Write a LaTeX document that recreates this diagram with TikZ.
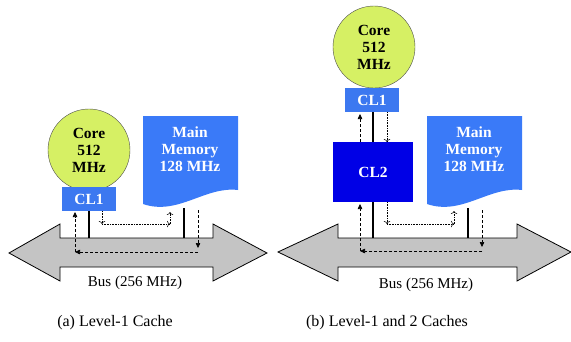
\documentclass[tikz,border=0pt]{standalone}
\usepackage{fontspec}
\setmainfont{Liberation Serif}
\usetikzlibrary{arrows.meta,positioning}
\definecolor{coregreen}{HTML}{D6F064}
\definecolor{cacheblue}{HTML}{3C78F0}
\definecolor{memblue}{HTML}{3A7AF8}
\definecolor{cltwoblue}{HTML}{0000E6}
\definecolor{busgray}{HTML}{C4C4C4}

\begin{document}
\begin{tikzpicture}[x=1pt,y=-1pt,
  core/.style={circle,draw=black!70,fill=coregreen,minimum size=82pt,inner sep=0pt,align=center,
    font=\fontsize{15.5}{17}\selectfont\bfseries},
  cache/.style={rectangle,fill=cacheblue,minimum width=54pt,minimum height=24pt,inner sep=0pt,
    text=white,font=\fontsize{15.5}{17}\selectfont\bfseries},
  memtxt/.style={align=center,text=white,font=\fontsize{15.5}{17}\selectfont\bfseries},
  memfill/.style={fill=memblue},
  bus/.style={draw=black,thick,fill=busgray},
  link/.style={line width=1.6pt},
  dat/.style={densely dashed,semithick,-{Triangle[length=5pt,width=4.5pt]}},
  fwd/.style={densely dotted,semithick,-{To[length=3pt]}},
  lbl/.style={font=\fontsize{15}{18}\selectfont},
  captxt/.style={font=\fontsize{16}{18}\selectfont}]
\useasboundingbox (0,0) rectangle (571,341);

% (a) level-1 cache
\draw[bus] (9,253) -- (60,224) -- (60,238) -- (213,238) -- (213,224) -- (267,253)
  -- (213,281) -- (213,267) -- (60,267) -- (60,281) -- cycle;
\node[core] (corea) at (89,150) {Core\\512\\MHz};
\node[cache] (cla) at (89,199) {CL1};
\fill[memfill] (143,116) -- (238,116) -- (238,190) .. controls (205,186) and (178,216) .. (143,204) -- cycle;
\node[memtxt] (mema) at (190,149) {Main\\Memory\\128 MHz};
\coordinate (mema-in) at (184,208);
\coordinate (busa) at (89,238);
\coordinate (busa-m) at (184,238);
\draw[link] (cla.south) -- (busa);
\draw[link] (mema-in) -- (busa-m);
\coordinate (pa1) at (102,211); \coordinate (pa2) at (102,224);
\coordinate (pa3) at (170,224); \coordinate (pa4) at (170,212);
\draw[fwd] (pa1) -- (pa2); \draw[fwd] (pa2) -- (pa3); \draw[fwd] (pa3) -- (pa4);
\coordinate (qa1) at (198,210); \coordinate (qa2) at (198,252);
\coordinate (qa3) at (75,252); \coordinate (qa4) at (75,212);
\draw[dat] (qa1) -- (198,248); \draw[dat] (qa2) -- (qa3); \draw[dat] (qa3) -- (qa4);
\node[lbl] (busatxt) at (135,283) {Bus (256 MHz)};
\node[captxt] (capa) at (115,323) {(a) Level-1 Cache};

% (b) level-1 and 2 caches
\draw[bus] (278,252) -- (338,224) -- (338,238) -- (517,238) -- (517,224) -- (571,252)
  -- (517,281) -- (517,267) -- (338,267) -- (338,281) -- cycle;
\node[core] (coreb) at (374,47) {Core\\512\\MHz};
\node[cache] (clb) at (372,100) {CL1};
\node[cache,fill=cltwoblue,minimum width=80pt,minimum height=60pt] (cltwo) at (373,172) {CL2};
\fill[memfill] (427,116) -- (522,116) -- (522,190) .. controls (489,186) and (462,216) .. (427,204) -- cycle;
\node[memtxt] (memb) at (474,149) {Main\\Memory\\128 MHz};
\coordinate (memb-in) at (468,208);
\coordinate (busb) at (373,238);
\coordinate (busb-m) at (468,238);
\draw[link] (clb.south -| cltwo.north) -- (cltwo.north);
\draw[link] (cltwo.south) -- (busb);
\draw[link] (memb-in) -- (busb-m);
\coordinate (pb0) at (387,112); \coordinate (pb1) at (387,142);
\coordinate (pb2) at (387,202); \coordinate (pb3) at (387,224);
\coordinate (pb4) at (454,224); \coordinate (pb5) at (454,211);
\draw[fwd] (pb0) -- (pb1); \draw[fwd] (pb2) -- (pb3); \draw[fwd] (pb3) -- (pb4); \draw[fwd] (pb4) -- (pb5);
\coordinate (qb1) at (482,210); \coordinate (qb2) at (482,251);
\coordinate (qb3) at (360,251); \coordinate (qb4) at (360,204);
\coordinate (qb5) at (360,142); \coordinate (qb6) at (360,114);
\draw[dat] (qb1) -- (482,247); \draw[dat] (qb2) -- (qb3); \draw[dat] (qb3) -- (qb4); \draw[dat] (qb5) -- (qb6);
\node[lbl] (busbtxt) at (426,285) {Bus (256 MHz)};
\node[captxt] (capb) at (387,323) {(b) Level-1 and 2 Caches};
\end{tikzpicture}
\end{document}
